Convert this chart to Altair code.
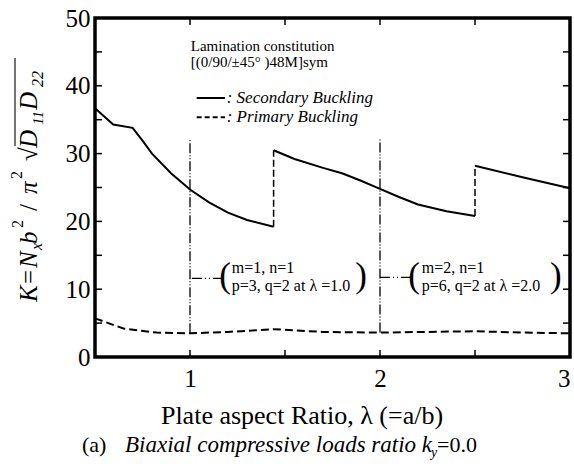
import altair as alt
import pandas as pd

FONT = "Liberation Serif"
PL, PT = 95, 18  # plot origin in page pixels

# ---- data ----
sec1_lam = [0.5, 0.596, 0.698, 0.75, 0.8, 0.9, 1.0, 1.1, 1.2, 1.3, 1.44]
sec1_K = [36.7, 34.3, 33.8, 31.9, 30.0, 27.1, 24.7, 22.8, 21.3, 20.2, 19.2]
sec2_lam = [1.44, 1.55, 1.7, 1.8, 1.9, 2.0, 2.1, 2.2, 2.35, 2.5]
sec2_K = [30.5, 29.2, 27.9, 27.1, 26.0, 24.8, 23.6, 22.5, 21.5, 20.8]
sec3_lam = [2.5, 2.75, 3.0]
sec3_K = [28.2, 26.5, 24.9]

pri_lam = [0.5, 0.65, 0.825, 1.0, 1.2, 1.44, 1.7, 2.0, 2.5, 2.75, 3.0]
pri_K = [5.7, 4.2, 3.6, 3.5, 3.7, 4.1, 3.7, 3.6, 3.8, 3.6, 3.5]

jump_lam = [1.44, 2.5]
jump_lo = [19.2, 20.8]
jump_hi = [30.5, 28.2]

ref_lam = [1.0, 2.0]
ref_lo = [3.5, 3.6]
ref_hi = [32.1, 32.1]

conn_lam = [1.01, 2.0]
conn_lam2 = [1.17, 2.17]
conn_K = [11.6, 11.75]

ann_lam = [1.22, 1.22, 2.22, 2.22]
ann_K = [13.1, 10.5, 13.1, 10.5]
ann_text = ["m=1, n=1", "p=3, q=2 at  λ =1.0", "m=2, n=1", "p=6, q=2 at  λ =2.0"]

br_lam = [1.185, 1.9, 2.18, 2.925]
br_K = [11.7, 11.7, 11.7, 11.7]
br_text = ["(", ")", "(", ")"]

x_ticks = [0.5, 1.0, 1.5, 2.0, 2.5, 3.0]
y_ticks = [0, 5, 10, 15, 20, 25, 30, 35, 40, 45, 50]
x_labels = [1, 2, 3]
y_labels = [0, 10, 20, 30, 40, 50]

W, H = 475, 339
xs = alt.Scale(domain=[0.5, 3.0], nice=False, zero=False)
ys = alt.Scale(domain=[0, 50], nice=False, zero=False)

sec_df = pd.DataFrame({
    "lam": sec1_lam + sec2_lam + sec3_lam,
    "K": sec1_K + sec2_K + sec3_K,
    "seg": [1] * len(sec1_lam) + [2] * len(sec2_lam) + [3] * len(sec3_lam),
})
pri_df = pd.DataFrame({"lam": pri_lam, "K": pri_K})

X = lambda f="lam": alt.X(f"{f}:Q", scale=xs)
Y = lambda f="K": alt.Y(f"{f}:Q", scale=ys)

sec = alt.Chart(sec_df).mark_line(color="black", strokeWidth=2).encode(
    x=alt.X("lam:Q", scale=xs,
            axis=alt.Axis(values=x_labels, format="d", title=None, ticks=False, domain=False,
                          grid=False, labelFont=FONT, labelFontSize=25, labelColor="black",
                          labelPadding=9)),
    y=alt.Y("K:Q", scale=ys,
            axis=alt.Axis(values=y_labels, format="d", title=None, ticks=False, domain=False,
                          grid=False, labelFont=FONT, labelFontSize=25, labelColor="black",
                          labelPadding=5)),
    detail="seg:N",
)
pri = alt.Chart(pri_df).mark_line(color="black", strokeWidth=2, strokeDash=[8, 4]).encode(x=X(), y=Y())

jumps = alt.Chart(pd.DataFrame({"lam": jump_lam, "lo": jump_lo, "hi": jump_hi})).mark_rule(
    color="black", strokeWidth=1.5, strokeDash=[7, 3]).encode(x=X(), y=Y("lo"), y2="hi:Q")

refs = alt.Chart(pd.DataFrame({"lam": ref_lam, "lo": ref_lo, "hi": ref_hi})).mark_rule(
    color="black", strokeWidth=1.3, strokeDash=[10, 2, 1, 2, 1, 2]).encode(x=X(), y=Y("lo"), y2="hi:Q")

conns = alt.Chart(pd.DataFrame({"lam": conn_lam, "lam2": conn_lam2, "K": conn_K})).mark_rule(
    color="black", strokeWidth=1.2, strokeDash=[10, 3, 1, 3, 1, 3]).encode(x=X(), x2="lam2:Q", y=Y())

ann = alt.Chart(pd.DataFrame({"lam": ann_lam, "K": ann_K, "t": ann_text})).mark_text(
    font=FONT, fontSize=16, align="left", baseline="middle", color="black").encode(
    x=X(), y=Y(), text="t:N")

brs = alt.Chart(pd.DataFrame({"lam": br_lam, "K": br_K, "t": br_text})).mark_text(
    font=FONT, fontSize=35, align="center", baseline="middle", color="black", dy=-2).encode(
    x=X(), y=Y(), text="t:N")

# legend / lamination box (data coordinates inside the plot)
lam_text = alt.Chart(pd.DataFrame({"lam": [1.004, 1.004], "K": [45.2, 42.7],
                                   "t": ["Lamination constitution", "[(0/90/±45°   )48M]sym"]})).mark_text(
    font=FONT, fontSize=15, align="left", baseline="alphabetic", color="black").encode(
    x=X(), y=Y(), text="t:N")

leg_solid = alt.Chart(pd.DataFrame({"lam": [1.035], "lam2": [1.184], "K": [38.2]})).mark_rule(
    color="black", strokeWidth=2).encode(x=X(), x2="lam2:Q", y=Y())
leg_dash = alt.Chart(pd.DataFrame({"lam": [1.035], "lam2": [1.184], "K": [35.35]})).mark_rule(
    color="black", strokeWidth=2, strokeDash=[5, 3]).encode(x=X(), x2="lam2:Q", y=Y())
leg_text = alt.Chart(pd.DataFrame({"lam": [1.193, 1.193], "K": [37.4, 34.7],
                                   "t": [": Secondary Buckling", ": Primary Buckling"]})).mark_text(
    font=FONT, fontSize=17, fontStyle="italic", align="left", baseline="alphabetic", color="black").encode(
    x=X(), y=Y(), text="t:N")

# inside ticks on all four sides
TL = 7
xt = pd.DataFrame({"lam": x_ticks})
yt = pd.DataFrame({"K": y_ticks})
tick_b = alt.Chart(xt).mark_rule(color="black", strokeWidth=1.5).encode(x=X(), y=alt.value(H), y2=alt.value(H - TL))
tick_t = alt.Chart(xt).mark_rule(color="black", strokeWidth=1.5).encode(x=X(), y=alt.value(0), y2=alt.value(TL))
tick_l = alt.Chart(yt).mark_rule(color="black", strokeWidth=1.5).encode(y=Y(), x=alt.value(0), x2=alt.value(TL))
tick_r = alt.Chart(yt).mark_rule(color="black", strokeWidth=1.5).encode(y=Y(), x=alt.value(W), x2=alt.value(W - TL))

# y-axis title pieces: K = N_x b^2 / pi^2 sqrt(D11 D22), rotated
yt_it = pd.DataFrame({
    "t": ["K", "N", "x", "b", "π", "D", "11", "D", "22"],
    "px": [37, 37, 42, 37, 37, 37, 43, 37, 43],
    "py": [302, 268, 250, 244, 194, 148, 125, 110, 87],
    "fs": [25, 25, 16, 25, 25, 25, 15, 25, 16],
})
yt_no = pd.DataFrame({
    "t": ["=", "2", "/", "2", "√"],
    "px": [37, 23, 37, 22, 37],
    "py": [284, 228, 211, 179, 161],
    "fs": [25, 16, 25, 16, 25],
})
for d in (yt_it, yt_no):
    d["px"] = d["px"] - PL
    d["py"] = d["py"] - PT

def piece(df, style):
    return alt.Chart(df).mark_text(font=FONT, fontStyle=style, angle=270, align="left",
                                   baseline="alphabetic", color="black").encode(
        x=alt.X("px:Q", scale=None), y=alt.Y("py:Q", scale=None),
        size=alt.Size("fs:Q", scale=None, legend=None), text="t:N")

ytitle_i = piece(yt_it, "italic")
ytitle_n = piece(yt_no, "normal")
overline = alt.Chart(pd.DataFrame({"a": [1]})).mark_rule(color="black", strokeWidth=1.1).encode(
    x=alt.value(15 - PL), y=alt.value(58 - PT), y2=alt.value(146 - PT))

# x title and caption (page pixels)
xtitle = alt.Chart(pd.DataFrame({"t": ["Plate aspect Ratio,  λ (=a/b)"]})).mark_text(
    font=FONT, fontSize=26, align="center", baseline="alphabetic", color="black").encode(
    x=alt.value(302 - PL), y=alt.value(424 - PT), text="t:N")

cap_df = pd.DataFrame({
    "t": ["(a)", "Biaxial compressive loads ratio k", "y", "=0.0"],
    "px": [82, 125, 431, 437],
    "py": [452, 452, 457, 452],
    "fs": [22, 23, 14, 22],
    "st": ["n", "i", "i", "n"],
})
cap_df["px"] = cap_df["px"] - PL
cap_df["py"] = cap_df["py"] - PT

def cap(style_key, style):
    return alt.Chart(cap_df[cap_df["st"] == style_key]).mark_text(
        font=FONT, fontStyle=style, align="left", baseline="alphabetic", color="black").encode(
        x=alt.X("px:Q", scale=None), y=alt.Y("py:Q", scale=None),
        size=alt.Size("fs:Q", scale=None, legend=None), text="t:N")

chart = alt.layer(
    sec, pri, jumps, refs, conns, ann, brs, lam_text, leg_solid, leg_dash, leg_text,
    tick_b, tick_t, tick_l, tick_r, ytitle_i, ytitle_n, overline, xtitle,
    cap("n", "normal"), cap("i", "italic"),
).properties(
    width=W, height=H,
    autosize="none",
    padding={"left": PL, "top": PT, "right": 4, "bottom": 113},
    background="white",
).configure_view(stroke="black", strokeWidth=3.5)

chart.save("out.html", embed_options={"renderer": "svg", "actions": False})
